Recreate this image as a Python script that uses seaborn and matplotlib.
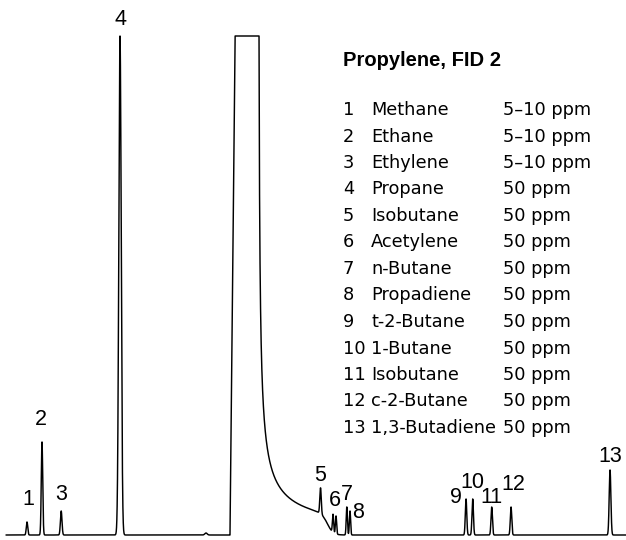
import numpy as np
import pandas as pd
import matplotlib
matplotlib.use('Agg')
import matplotlib.pyplot as plt
import seaborn as sns

# peak table (retention time in min, height in signal units)
peak_ids = ['1', '2', '3', '4', '5', '6', '7', '8', '9', '10', '11', '12', '13']
compounds = ['Methane', 'Ethane', 'Ethylene', 'Propane', 'Isobutane', 'Acetylene',
             'n-Butane', 'Propadiene', 't-2-Butane', '1-Butane', 'Isobutane',
             'c-2-Butane', '1,3-Butadiene']
amounts = ['5\u201310 ppm', '5\u201310 ppm', '5\u201310 ppm', '50 ppm', '50 ppm', '50 ppm',
           '50 ppm', '50 ppm', '50 ppm', '50 ppm', '50 ppm', '50 ppm', '50 ppm']
ret_times = [0.45, 0.70, 1.02, 2.00, 5.342, 5.575, 5.78, 5.833, 7.767, 7.878, 8.195, 8.517, 10.167]
heights = [13, 93, 24, 499, 26, 18, 28, 24, 36, 36, 28, 28, 65]
sigmas = [0.012, 0.012, 0.013, 0.02, 0.012, 0.01, 0.01, 0.01, 0.012, 0.012, 0.012, 0.012, 0.014]
# acetylene shows up as a doublet
doublet_times = [5.55, 5.60]

# small bump before the matrix peak
bump_time, bump_height, bump_sigma = 3.433, 2, 0.02

# propylene matrix peak (overloaded, clipped)
prop_start, prop_top, prop_apex = 3.833, 3.917, 4.305
clip_level = 499
tail_amp, tail_ref, tail_pow = 115, 0.1, 0.69
cut_time, cut_width = 5.462, 0.048

t = np.linspace(0.1, 10.43, 30000)

def gauss(x, mu, h, s):
    return h * np.exp(-0.5 * ((x - mu) / s) ** 2)

# matrix peak: steep front, long tail that drops off after isobutane
front = clip_level * np.clip((t - prop_start) / (prop_top - prop_start), 0, 1)
dx = np.maximum(t - prop_apex, 1e-6)
tail = tail_amp * (tail_ref / dx) ** tail_pow / (1 + np.exp((t - cut_time) / cut_width))
matrix = np.where(t < prop_apex, front, tail)

sig = matrix + gauss(t, bump_time, bump_height, bump_sigma)
for pid, rt, h, s in zip(peak_ids, ret_times, heights, sigmas):
    if pid == '6':
        for dt in doublet_times:
            sig += gauss(t, dt, h, s)
    else:
        sig += gauss(t, rt, h, s)
sig = np.minimum(sig, clip_level)

df = pd.DataFrame({'time': t, 'signal': sig})

sns.set_theme(style='white')
plt.rcParams['font.family'] = ['DejaVu Sans']
plt.rcParams['text.color'] = 'black'

fig = plt.figure(figsize=(6.26, 5.4), dpi=100)
ax = fig.add_axes([0, 0, 1, 1])
sns.lineplot(data=df, x='time', y='signal', ax=ax, color='black', linewidth=1.05)
ax.set_xlim(0, 10.433)
ax.set_ylim(-5, 535)
ax.axis('off')

# peak number labels
label_off = [(1, 17), (-1, 17), (0, 11), (0, 11), (0, 7), (0, 8), (0, 7),
             (8, -7), (-10, -4), (0, 11), (0, 4), (2, 17), (0, 8)]
for pid, rt, off in zip(peak_ids, ret_times, label_off):
    if pid == '6':
        top = max(np.interp(d, t, sig) for d in doublet_times)
    else:
        top = np.interp(rt, t, sig)
    ax.annotate(pid, (rt, top), xytext=off, textcoords='offset pixels',
                ha='center', va='baseline', fontsize=15.5, color='black',
                family=['Liberation Sans', 'DejaVu Sans'])

# compound list
W, H = 626.0, 540.0
fig.text(343 / W, 1 - 66 / H, 'Propylene, FID 2', fontsize=14.5, fontweight='bold',
         family=['Liberation Sans', 'DejaVu Sans'], va='baseline', ha='left')
for i, (pid, name, amt) in enumerate(zip(peak_ids, compounds, amounts)):
    yb = 1 - (115 + 26.5 * i) / H
    fig.text(343 / W, yb, pid, fontsize=12.8, va='baseline', ha='left')
    fig.text(371 / W, yb, name, fontsize=12.8, va='baseline', ha='left')
    fig.text(503 / W, yb, amt, fontsize=12.8, va='baseline', ha='left')

fig.savefig('out.png', dpi=100)
